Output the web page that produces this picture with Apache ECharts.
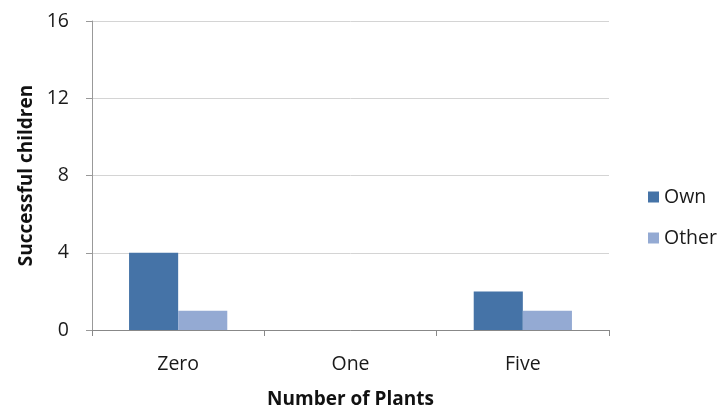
<!DOCTYPE html>
<html>
<head>
<meta charset="utf-8">
<script src="https://cdn.jsdelivr.net/npm/echarts@6/dist/echarts.min.js"></script>
<style>
html,body{margin:0;padding:0;background:#fff;}
#chart{width:723px;height:410px;}
</style>
</head>
<body>
<div id="chart"></div>
<script>
// Plant counts and the successful children per group
const categories = ['Zero', 'One', 'Five'];
const ownValues = [4, 0, 2];
const otherValues = [1, 0, 1];
const yTicks = [0, 4, 8, 12, 16];

const font = '"Open Sans", "Liberation Sans", sans-serif';
const chart = echarts.init(document.getElementById('chart'));
chart.setOption({
  animation: false,
  grid: { left: 92, right: 114, top: 21, bottom: 80, outerBoundsMode: 'none', containLabel: false },
  legend: {
    orient: 'vertical',
    left: 643, top: 182,
    itemWidth: 11, itemHeight: 11, itemGap: 21,
    icon: 'rect',
    textStyle: { fontFamily: font, fontSize: 19.5, color: '#1a1a1a' },
    data: ['Own', 'Other']
  },
  xAxis: {
    type: 'category',
    data: categories,
    name: 'Number of Plants',
    nameLocation: 'middle',
    nameGap: 60,
    nameTextStyle: { fontFamily: font, fontSize: 19, fontWeight: 'bold', color: '#111' },
    axisLine: { lineStyle: { color: '#888', width: 1 } },
    axisTick: { show: true, length: 6, lineStyle: { color: '#888' } },
    axisLabel: { fontFamily: font, fontSize: 19.5, color: '#1a1a1a', margin: 24 }
  },
  yAxis: {
    type: 'value',
    min: yTicks[0], max: yTicks[yTicks.length - 1], interval: 4,
    name: 'Successful children',
    nameLocation: 'middle',
    nameGap: 52,
    nameRotate: 90,
    nameTextStyle: { fontFamily: font, fontSize: 19, fontWeight: 'bold', color: '#111' },
    axisLine: { show: true, lineStyle: { color: '#999', width: 1 } },
    axisTick: { show: true, length: 6, lineStyle: { color: '#999' } },
    axisLabel: { fontFamily: font, fontSize: 19.5, color: '#1a1a1a', margin: 23 },
    splitLine: { lineStyle: { color: '#d4d4d4', width: 1 } }
  },
  series: [
    {
      name: 'Own', type: 'bar', data: ownValues,
      barGap: '0%', barCategoryGap: '43%',
      itemStyle: { color: '#4573A7' }
    },
    {
      name: 'Other', type: 'bar', data: otherValues,
      itemStyle: { color: '#94AAD3' }
    }
  ]
});
</script>
</body>
</html>
